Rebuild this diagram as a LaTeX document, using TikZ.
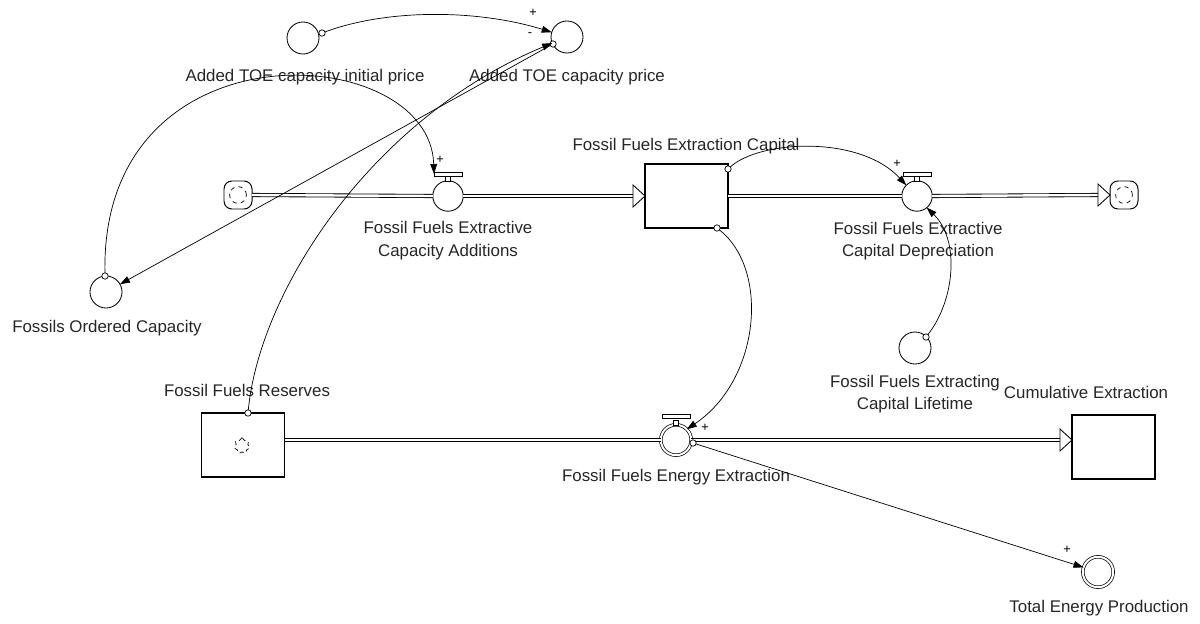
\documentclass[tikz,border=0pt]{standalone}
\usepackage{fontspec}
\setmainfont{Liberation Sans}
\usetikzlibrary{arrows.meta,calc,shapes.geometric}
\newcommand{\flowtip}[1]{\draw[pipehead] ($(#1)+(-12,-11)$) -- (#1) -- ($(#1)+(-12,11)$) -- cycle;}
\begin{document}
\begin{tikzpicture}[x=0.025cm,y=-0.025cm,
  every node/.style={inner sep=0pt, outer sep=0pt},
  lbl/.style={font=\fontsize{12}{16}\selectfont, align=center, text=black!85},
  auxv/.style={circle, draw, line width=0.6pt, minimum size=0.8cm, fill=white},
  valvec/.style={circle, draw, line width=0.6pt, minimum size=0.76cm, fill=white},
  dblc/.style={circle, draw, double, double distance=0.05cm, line width=0.5pt, minimum size=0.76cm, fill=white},
  stockbox/.style={draw, line width=0.8pt, minimum width=2.075cm, minimum height=1.6cm, fill=white},
  cloudn/.style={draw, rounded corners=0.2cm, minimum size=0.7cm, line width=0.7pt, fill=white},
  handbar/.style={draw, line width=0.5pt, minimum width=0.7cm, minimum height=0.1cm, fill=white},
  handstem/.style={draw, line width=0.5pt, minimum width=0.12cm, minimum height=0.13cm, fill=white},
  hnd/.style={circle, draw, line width=0.5pt, minimum size=0.16cm, fill=white},
  link/.style={line width=0.5pt, -{Triangle[length=0.25cm, width=0.17cm]}},
  pipe/.style={line width=0.6pt, double=white, double distance=0.06cm},
  pipehead/.style={line width=0.6pt, fill=white, draw},
  pol/.style={font=\fontsize{9}{10}\selectfont}
]
\useasboundingbox (0,0) rectangle (1200,623);

% auxiliaries
\node[auxv] (ip) at (303,38) {};
\node[lbl] (ipl) at (305,77) {Added TOE capacity initial price};
\node[auxv] (pr) at (567,37) {};
\node[lbl] (prl) at (567,77) {Added TOE capacity price};
\node[auxv] (oc) at (106,292) {};
\node[lbl] (ocl) at (107,328) {Fossils Ordered Capacity};
\node[auxv] (lt) at (915,348) {};
\node[lbl] (ltl) at (915,394) {Fossil Fuels Extracting\\Capital Lifetime};
\node[dblc] (tot) at (1098,572) {};
\node[lbl] (totl) at (1099,608) {Total Energy Production};

% clouds
\node[cloudn] (cL) at (238,195) {};
\node[circle, draw, dashed, line width=0.5pt, minimum size=0.42cm] (cLi) at (238,195) {};
\node[cloudn] (cR) at (1124,195) {};
\node[circle, draw, dashed, line width=0.5pt, minimum size=0.42cm] (cRi) at (1124,195) {};

% stocks
\node[stockbox] (cap) at (686.5,196) {};
\node[lbl] (capl) at (686,146) {Fossil Fuels Extraction Capital};
\node[stockbox] (res) at (243,445) {};
\node[star, star points=7, star point ratio=1.4, draw, dashed, line width=0.5pt, minimum size=0.42cm] (resi) at (242,446) {};
\node[lbl] (resl) at (247,390) {Fossil Fuels Reserves};
\node[stockbox] (cum) at (1113.5,447) {};
\node[lbl] (cuml) at (1086,392) {Cumulative Extraction};

% valves
\node[valvec] (vA) at (448,196) {};
\node[handstem] (sA) at (448,178.5) {};
\node[handbar] (bA) at (448,174) {};
\node[lbl] (vAl) at (448,240.5) {Fossil Fuels Extractive\\Capacity Additions};
\node[valvec] (vD) at (917,196) {};
\node[handstem] (sD) at (917,178.5) {};
\node[handbar] (bD) at (917,174) {};
\node[lbl] (vDl) at (918,241) {Fossil Fuels Extractive\\Capital Depreciation};
\node[dblc] (vE) at (676,440) {};
\node[handstem] (sE) at (676,422.5) {};
\node[handbar] (bE) at (676,416) {};
\node[lbl] (vEl) at (676,477) {Fossil Fuels Energy Extraction};

% pipes
\draw[pipe] (cL.east) -- (vA.west);
\draw[pipe] (vA.east) -- ($(cap.west)+(-12,0)$);
\flowtip{cap.west}
\draw[pipe] (cap.east) -- (vD.west);
\draw[pipe] (vD.east) -- ($(cR.west)+(-12,0)$);
\flowtip{cR.west}
\coordinate (rsE) at (res.east |- vE.west);
\coordinate (tcum) at (cum.west |- vE.east);
\draw[pipe] (rsE) -- (vE.west);
\draw[pipe] (vE.east) -- ($(tcum)+(-12,0)$);
\flowtip{tcum}

% link handles
\node[hnd] (h1) at (322,33) {};
\node[hnd] (h2) at (248,413) {};
\node[hnd] (h3) at (553,44) {};
\node[hnd] (h4) at (105,276) {};
\node[hnd] (h5) at (728,169) {};
\node[hnd] (h6) at (717,228) {};
\node[hnd] (h7) at (926,337) {};
\node[hnd] (h8) at (693,443) {};

% links
\draw[link] (h1) .. controls (390,8) and (480,10) .. (pr);
\draw[link] (h2) .. controls (260,290) and (372,118) .. (pr);
\draw[link] (h3) -- (oc);
\draw[link] (h4) .. controls (100,20) and (430,40) .. (bA.west);
\draw[link] (h5) .. controls (760,140) and (860,135) .. (vD.135);
\draw[link] (h6) .. controls (770,270) and (760,380) .. (vE.45);
\draw[link] (h7) .. controls (955,300) and (960,240) .. (vD.-50);
\draw[link] (h8) -- (tot);

% polarities
\node[pol] (p1) at (533,13) {+};
\node[pol] (p2) at (530,35) {-};
\node[pol] (p3) at (440,160) {+};
\node[pol] (p4) at (897,164) {+};
\node[pol] (p5) at (705,428) {+};
\node[pol] (p6) at (1067,550) {+};
\end{tikzpicture}
\end{document}
